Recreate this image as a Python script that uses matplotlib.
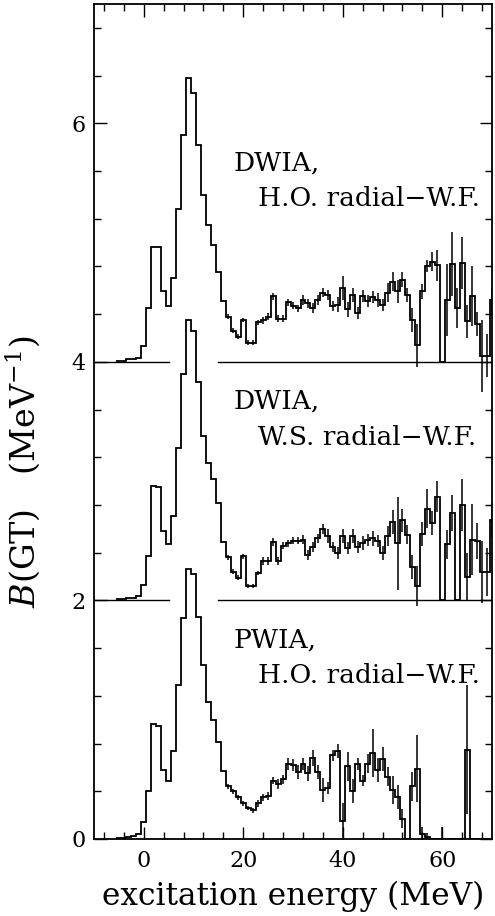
import numpy as np
import matplotlib
matplotlib.use("Agg")
import matplotlib.pyplot as plt
from matplotlib.ticker import MultipleLocator

plt.rcParams['font.family'] = ['DejaVu Serif']
plt.rcParams['mathtext.fontset'] = 'dejavuserif'

# bin centres in MeV (1 MeV bins)
energy = np.arange(-5, 71)

# PWIA, H.O. radial w.f. (plotted at offset 0)
pwia_ho = [0.01, 0.01, 0.02, 0.025, 0.045,
           0.14, 0.40, 0.96, 0.95, 0.58, 0.49, 0.74, 1.29, 1.85, 2.26,
           2.22, 1.86, 1.46, 1.15, 1.00, 0.81, 0.57, 0.44, 0.40, 0.35,
           0.30, 0.26, 0.24, 0.30, 0.35, 0.36, 0.49, 0.46, 0.50, 0.63,
           0.62, 0.56, 0.63, 0.55, 0.68, 0.56, 0.41, 0.43, 0.70, 0.74,
           0.15, 0.61, 0.40, 0.63, 0.49, 0.63, 0.72, 0.58, 0.67, 0.52,
           0.41, 0.35, 0.17, 0.00, 0.44, 0.59, 0.04, 0.02, 0.00, 0.00,
           0.00, 0.00, 0.00, 0.00, 0.00, 0.75, 0.00, 0.00, 0.00, 0.00,
           0.00]
pwia_ho_err = [0, 0, 0, 0, 0,
               0, 0, 0, 0, 0, 0, 0, 0, 0, 0,
               0, 0, 0, 0, 0, 0, 0, 0.02, 0.02, 0.02,
               0.02, 0.02, 0.02, 0.03, 0.03, 0.03, 0.03, 0.04, 0.04, 0.05,
               0.05, 0.06, 0.05, 0.06, 0.07, 0.06, 0.10, 0.05, 0.05, 0.06,
               0.15, 0.12, 0.10, 0.05, 0.05, 0.08, 0.20, 0.10, 0.10, 0.08,
               0.12, 0.10, 0.08, 0.00, 0.12, 0.28, 0.06, 0.03, 0.00, 0.00,
               0.10, 0.00, 0.00, 0.00, 0.00, 0.54, 0.00, 0.00, 0.00, 0.00,
               0.00]

# DWIA, W.S. radial w.f. (offset 2)
dwia_ws = [0.01, 0.01, 0.02, 0.02, 0.04,
           0.13, 0.37, 0.96, 0.95, 0.58, 0.47, 0.71, 1.28, 1.90, 2.35,
           2.26, 1.83, 1.38, 1.15, 1.02, 0.82, 0.49, 0.36, 0.24, 0.19,
           0.37, 0.12, 0.12, 0.23, 0.33, 0.33, 0.49, 0.33, 0.46, 0.48,
           0.50, 0.50, 0.51, 0.38, 0.45, 0.52, 0.60, 0.54, 0.45, 0.40,
           0.54, 0.44, 0.54, 0.45, 0.48, 0.51, 0.52, 0.50, 0.40, 0.54,
           0.66, 0.48, 0.67, 0.55, 0.28, 0.12, 0.56, 0.77, 0.65, 0.87,
           0.00, 0.47, 0.73, 0.00, 0.80, 0.20, 0.51, 0.50, 0.24, 0.24,
           0.67]
dwia_ws_err = [0, 0, 0, 0, 0,
               0, 0, 0, 0, 0, 0, 0, 0, 0, 0,
               0, 0, 0, 0, 0, 0, 0, 0.02, 0.02, 0.02,
               0.02, 0.02, 0.02, 0.02, 0.03, 0.03, 0.03, 0.03, 0.03, 0.03,
               0.03, 0.03, 0.04, 0.04, 0.04, 0.04, 0.04, 0.06, 0.04, 0.05,
               0.06, 0.05, 0.06, 0.05, 0.06, 0.05, 0.06, 0.05, 0.06, 0.08,
               0.10, 0.39, 0.10, 0.08, 0.10, 0.17, 0.10, 0.16, 0.10, 0.13,
               0.00, 0.12, 0.15, 0.00, 0.22, 0.20, 0.30, 0.15, 0.26, 0.20,
               0.15]

# DWIA, H.O. radial w.f. (offset 4)
dwia_ho = [0.01, 0.01, 0.02, 0.02, 0.03,
           0.13, 0.45, 0.96, 0.96, 0.59, 0.47, 0.70, 1.28, 1.90, 2.38,
           2.25, 1.82, 1.40, 1.15, 0.98, 0.75, 0.51, 0.38, 0.26, 0.21,
           0.35, 0.16, 0.16, 0.33, 0.35, 0.38, 0.55, 0.36, 0.36, 0.50,
           0.47, 0.45, 0.52, 0.49, 0.45, 0.52, 0.58, 0.56, 0.47, 0.48,
           0.62, 0.44, 0.56, 0.41, 0.55, 0.51, 0.54, 0.52, 0.48, 0.58,
           0.67, 0.59, 0.69, 0.56, 0.35, 0.14, 0.59, 0.80, 0.84, 0.81,
           0.00, 0.52, 0.82, 0.45, 0.83, 0.34, 0.55, 0.32, 0.05, 0.05,
           0.52]
dwia_ho_err = [0, 0, 0, 0, 0,
               0, 0, 0, 0, 0, 0, 0, 0, 0, 0,
               0, 0, 0, 0, 0, 0, 0, 0.02, 0.02, 0.02,
               0.02, 0.02, 0.02, 0.02, 0.03, 0.03, 0.03, 0.03, 0.03, 0.03,
               0.03, 0.03, 0.04, 0.04, 0.04, 0.04, 0.04, 0.04, 0.04, 0.06,
               0.10, 0.06, 0.06, 0.05, 0.05, 0.05, 0.05, 0.06, 0.05, 0.08,
               0.08, 0.10, 0.06, 0.06, 0.10, 0.18, 0.06, 0.05, 0.08, 0.13,
               0.00, 0.30, 0.27, 0.17, 0.22, 0.14, 0.25, 0.10, 0.30, 0.18,
               0.10]

offsets = [0, 2, 4]
spectra = [(pwia_ho, pwia_ho_err), (dwia_ws, dwia_ws_err), (dwia_ho, dwia_ho_err)]
labels = [("PWIA,", "H.O. radial\u2212W.F."),
          ("DWIA,", "W.S. radial\u2212W.F."),
          ("DWIA,", "H.O. radial\u2212W.F.")]

edges = np.append(energy - 0.5, energy[-1] + 0.5)

fig = plt.figure(figsize=(4.95, 9.16), dpi=100)
ax = fig.add_axes([0.19, 0.0841, 0.804, 0.9115])

for off, (vals, errs), (l1, l2) in zip(offsets, spectra, labels):
    vals = np.array(vals)
    errs = np.array(errs)
    ax.stairs(vals + off, edges, baseline=None, color='k', lw=1.3)
    m = errs > 0
    ax.errorbar(energy[m], vals[m] + off, yerr=errs[m], fmt='none',
                ecolor='k', elinewidth=1.1, capsize=0)
    if off > 0:
        # zero line for the shifted spectra, broken where the lower peak passes
        ax.plot([-10, 5], [off, off], color='k', lw=1.0)
        ax.plot([15, 70], [off, off], color='k', lw=1.0)
    ax.text(18.1, off + 1.67, l1, fontsize=19, va='center', ha='left')
    ax.text(22.9, off + 1.37, l2, fontsize=19, va='center', ha='left')

ax.set_xlim(-10, 70)
ax.set_ylim(0, 7)
ax.xaxis.set_major_locator(MultipleLocator(20))
ax.xaxis.set_minor_locator(MultipleLocator(4))
ax.yaxis.set_major_locator(MultipleLocator(2))
ax.yaxis.set_minor_locator(MultipleLocator(0.4))
ax.tick_params(which='both', direction='in', top=True, right=True,
               labelsize=16, width=1.0)
ax.tick_params(which='major', length=9)
ax.tick_params(which='minor', length=5)
ax.tick_params(axis='x', pad=8)
ax.tick_params(axis='y', pad=6)
for s in ax.spines.values():
    s.set_linewidth(1.3)

ax.set_xlabel("excitation energy (MeV)", fontsize=22.5)
ax.set_ylabel("$B$(GT)\u2003(MeV$^{-1}$)", fontsize=24)
ax.yaxis.set_label_coords(-0.13, 0.44)
ax.xaxis.set_label_coords(0.5, -0.05)

fig.savefig("out.png", dpi=100)
